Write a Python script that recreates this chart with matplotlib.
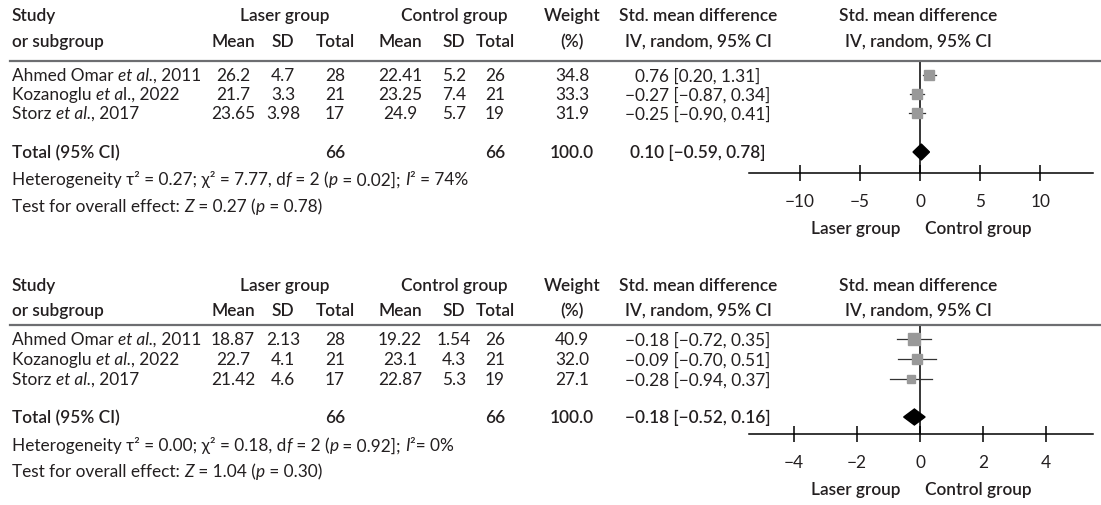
import matplotlib
matplotlib.use("Agg")
import matplotlib.pyplot as plt
from matplotlib.lines import Line2D

plt.rcParams['font.family'] = ['Lato', 'DejaVu Sans']

W, H = 1101, 506
TXT = '#231f20'
FS = 12.4

# ---- data: panel A ----
# study names as (text, style) pieces so "et al." can be set in italics
studies_a = [[('Ahmed Omar ', 'normal'), ('et al.', 'italic'), (', 2011', 'normal')],
             [('Kozanoglu ', 'normal'), ('et a', 'italic'), ('l., 2022', 'normal')],
             [('Storz ', 'normal'), ('et al.', 'italic'), (', 2017', 'normal')]]
laser_mean_a = ['26.2', '21.7', '23.65']
laser_sd_a = ['4.7', '3.3', '3.98']
laser_n_a = [28, 21, 17]
ctrl_mean_a = ['22.41', '23.25', '24.9']
ctrl_sd_a = ['5.2', '7.4', '5.7']
ctrl_n_a = [26, 21, 19]
weight_a = [34.8, 33.3, 31.9]
smd_a = [0.76, -0.27, -0.25]
lo_a = [0.20, -0.87, -0.90]
hi_a = [1.31, 0.34, 0.41]
total_a = (0.10, -0.59, 0.78)
het_a = [('Heterogeneity τ² = 0.27; χ² = 7.77, d', 'normal'), ('f', 'italic'),
         (' = 2 (', 'normal'), ('p', 'italic'), (' = 0.02]; ', 'normal'),
         ('I', 'italic'), ('² = 74%', 'normal')]
test_a = [('Test for overall effect: ', 'normal'), ('Z', 'italic'), (' = 0.27 (', 'normal'),
          ('p', 'italic'), (' = 0.78)', 'normal')]
ticks_a = [-10, -5, 0, 5, 10]
xlim_a = (-14.25, 14.4)

# ---- data: panel B ----
studies_b = [[('Ahmed Omar ', 'normal'), ('et al.,', 'italic'), (' 2011', 'normal')],
             [('Kozanoglu ', 'normal'), ('et al.', 'italic'), (', 2022', 'normal')],
             [('Storz ', 'normal'), ('et al.', 'italic'), (', 2017', 'normal')]]
laser_mean_b = ['18.87', '22.7', '21.42']
laser_sd_b = ['2.13', '4.1', '4.6']
laser_n_b = [28, 21, 17]
ctrl_mean_b = ['19.22', '23.1', '22.87']
ctrl_sd_b = ['1.54', '4.3', '5.3']
ctrl_n_b = [26, 21, 19]
weight_b = [40.9, 32.0, 27.1]
smd_b = [-0.18, -0.09, -0.28]
lo_b = [-0.72, -0.70, -0.94]
hi_b = [0.35, 0.51, 0.37]
total_b = (-0.18, -0.52, 0.16)
het_b = [('Heterogeneity τ² = 0.00; χ² = 0.18, d', 'normal'), ('f', 'italic'),
         (' = 2 (', 'normal'), ('p', 'italic'), (' = 0.92]; ', 'normal'),
         ('I', 'italic'), ('²= 0%', 'normal')]
test_b = [('Test for overall effect: ', 'normal'), ('Z', 'italic'), (' = 1.04 (', 'normal'),
          ('p', 'italic'), (' = 0.30)', 'normal')]
ticks_b = [-4, -2, 0, 2, 4]
xlim_b = (-5.43, 5.49)


def fmt(v):
    return f"{v:.2f}".replace('-', '\u2212')


fig = plt.figure(figsize=(W / 100, H / 100), dpi=100)
renderer = fig.canvas.get_renderer()


def txt(x, y, s, ha='left', bold=False, style='normal'):
    return fig.text(x / W, 1 - y / H, s, ha=ha, va='center', fontsize=FS, color=TXT,
                    fontweight='semibold' if bold else 'normal', fontstyle=style)


def rich(x, y, parts):
    # left aligned text made of pieces in different styles
    for s, style in parts:
        t = txt(x, y, s, style=style)
        x += t.get_window_extent(renderer=renderer).width


def panel(lay, studies, lm, lsd, ln, cm, csd, cn, wts, smd, lo, hi, tot, het, test, ticks, xlim):
    # column x centres (pixels)
    cx = dict(lm=233, lsd=283, ln=335, cm=400, csd=454, cn=495, w=572, ci=698)
    # header
    txt(12, lay['h1'], 'Study', bold=True)
    txt(285, lay['h1'], 'Laser group', ha='center', bold=True)
    txt(454, lay['h1'], 'Control group', ha='center', bold=True)
    txt(572, lay['h1'], 'Weight', ha='center', bold=True)
    txt(698, lay['h1'], 'Std. mean difference', ha='center', bold=True)
    txt(918, lay['h1'], 'Std. mean difference', ha='center', bold=True)
    txt(12, lay['h2'], 'or subgroup', bold=True)
    for k, lab in [('lm', 'Mean'), ('lsd', 'SD'), ('ln', 'Total'),
                   ('cm', 'Mean'), ('csd', 'SD'), ('cn', 'Total'), ('w', '(%)'),
                   ('ci', 'IV, random, 95% CI')]:
        txt(cx[k], lay['h2'], lab, ha='center', bold=True)
    txt(918, lay['h2'], 'IV, random, 95% CI', ha='center', bold=True)
    fig.add_artist(Line2D([10 / W, 1.0], [1 - lay['sep'] / H] * 2, color='#6d6e71', lw=1.6))

    # study rows
    for i, y in enumerate(lay['rows']):
        rich(12, y, studies[i])
        txt(cx['lm'], y, lm[i], ha='center')
        txt(cx['lsd'], y, lsd[i], ha='center')
        txt(cx['ln'], y, str(ln[i]), ha='center')
        txt(cx['cm'], y, cm[i], ha='center')
        txt(cx['csd'], y, csd[i], ha='center')
        txt(cx['cn'], y, str(cn[i]), ha='center')
        txt(cx['w'], y, f"{wts[i]:.1f}", ha='center')
        txt(cx['ci'], y, f"{fmt(smd[i])} [{fmt(lo[i])}, {fmt(hi[i])}]", ha='center')

    # total row
    yt = lay['tot']
    txt(12, yt, 'Total (95% CI)', bold=True)
    txt(cx['ln'], yt, str(sum(ln)), ha='center', bold=True)
    txt(cx['cn'], yt, str(sum(cn)), ha='center', bold=True)
    txt(cx['w'], yt, f"{sum(wts):.1f}", ha='center', bold=True)
    txt(cx['ci'], yt, f"{fmt(tot[0])} [{fmt(tot[1])}, {fmt(tot[2])}]", ha='center', bold=True)
    rich(12, lay['het'], het)
    rich(12, lay['test'], test)

    # forest plot
    x0, x1 = 749, 1093
    ax = fig.add_axes([x0 / W, 1 - lay['axis'] / H, (x1 - x0) / W, (lay['axis'] - lay['sep']) / H])
    ax.set_xlim(*xlim)
    ax.set_ylim(lay['axis'], lay['sep'])
    ax.patch.set_alpha(0)
    for s in ['left', 'right', 'top']:
        ax.spines[s].set_visible(False)
    ax.spines['bottom'].set_linewidth(1.1)
    ax.axvline(0, color='black', lw=1.1, zorder=1)
    for i, y in enumerate(lay['rows']):
        ax.plot([lo[i], hi[i]], [y, y], color='#333333', lw=0.9, zorder=2)
        ax.plot(smd[i], y, marker='s', ms=wts[i] * 0.3 * 0.72, color='#999999',
                mec='#999999', zorder=3)
    dh = 8
    ax.fill([tot[1], tot[0], tot[2], tot[0]], [yt, yt + dh, yt, yt - dh], color='black', zorder=4)
    ax.set_yticks([])
    ax.set_xticks(ticks)
    ax.tick_params(axis='x', direction='inout', length=11, width=1.1, pad=9,
                   labelsize=FS, labelcolor=TXT)
    txt(856, lay['grp'], 'Laser group', ha='center', bold=True)
    txt(978, lay['grp'], 'Control group', ha='center', bold=True)


lay_a = dict(h1=16, h2=42, sep=62, rows=[76, 95, 114], tot=153, het=180, test=207, axis=174, grp=229)
lay_b = dict(h1=286, h2=311, sep=326, rows=[340, 360, 380], tot=418, het=446, test=472, axis=435, grp=490)

panel(lay_a, studies_a, laser_mean_a, laser_sd_a, laser_n_a, ctrl_mean_a, ctrl_sd_a, ctrl_n_a,
      weight_a, smd_a, lo_a, hi_a, total_a, het_a, test_a, ticks_a, xlim_a)
panel(lay_b, studies_b, laser_mean_b, laser_sd_b, laser_n_b, ctrl_mean_b, ctrl_sd_b, ctrl_n_b,
      weight_b, smd_b, lo_b, hi_b, total_b, het_b, test_b, ticks_b, xlim_b)

fig.savefig('out.png', dpi=100, facecolor='white')
